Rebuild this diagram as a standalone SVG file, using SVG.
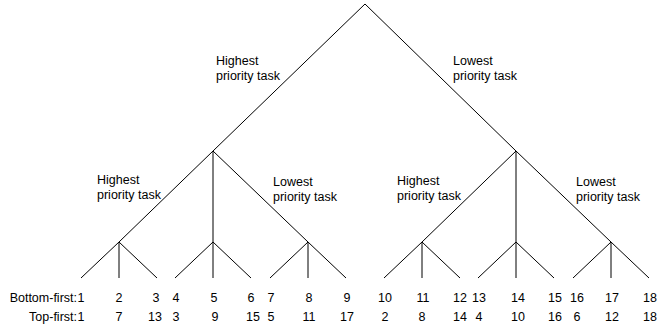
<svg xmlns="http://www.w3.org/2000/svg" width="664" height="332" viewBox="0 0 664 332">
<style>
.ln{stroke:#000;stroke-width:1;fill:none}
text{font-family:"Liberation Sans",Arial,sans-serif;font-size:12.5px;fill:#000}
.n{text-anchor:middle}
.r{text-anchor:end}
</style>
<rect width="664" height="332" fill="#fff"/>
<g id="connectors" class="ln">
<path d="M365,4 L213,151 M365,4 L516,151"/>
<path d="M213,151 L119,242 M213,151 L213,242 M213,151 L308,242"/>
<path d="M516,151 L422,242 M516,151 L516,242 M516,151 L611,242"/>
<path d="M119,242 L81,278 M119,242 L119,278 M119,242 L157,278"/>
<path d="M213,242 L175,278 M213,242 L213,278 M213,242 L251,278"/>
<path d="M308,242 L270,278 M308,242 L308,278 M308,242 L346,278"/>
<path d="M422,242 L384,278 M422,242 L422,278 M422,242 L460,278"/>
<path d="M516,242 L478,278 M516,242 L516,278 M516,242 L554,278"/>
<path d="M611,242 L573,278 M611,242 L611,278 M611,242 L649,278"/>
</g>
<g id="label-top-high"><text x="216" y="65">Highest</text><text x="216" y="80">priority task</text></g>
<g id="label-top-low"><text x="453" y="65">Lowest</text><text x="453" y="80">priority task</text></g>
<g id="label-left-high"><text x="97" y="184">Highest</text><text x="97" y="199">priority task</text></g>
<g id="label-left-low"><text x="273" y="185.5">Lowest</text><text x="273" y="200.5">priority task</text></g>
<g id="label-right-high"><text x="397" y="185">Highest</text><text x="397" y="200">priority task</text></g>
<g id="label-right-low"><text x="576" y="185.5">Lowest</text><text x="576" y="200.5">priority task</text></g>
<g id="row-bottom-first">
<text class="r" x="77" y="302">Bottom-first:</text>
<text class="n" x="81" y="302">1</text><text class="n" x="119" y="302">2</text><text class="n" x="156" y="302">3</text>
<text class="n" x="176" y="302">4</text><text class="n" x="214" y="302">5</text><text class="n" x="251" y="302">6</text>
<text class="n" x="271" y="302">7</text><text class="n" x="309" y="302">8</text><text class="n" x="347" y="302">9</text>
<text class="n" x="385" y="302">10</text><text class="n" x="423" y="302">11</text><text class="n" x="460" y="302">12</text>
<text class="n" x="479" y="302">13</text><text class="n" x="518" y="302">14</text><text class="n" x="555" y="302">15</text>
<text class="n" x="577" y="302">16</text><text class="n" x="612" y="302">17</text><text class="n" x="650" y="302">18</text>
</g>
<g id="row-top-first">
<text class="r" x="77" y="321">Top-first:</text>
<text class="n" x="81" y="321">1</text><text class="n" x="119" y="321">7</text><text class="n" x="155" y="321">13</text>
<text class="n" x="176" y="321">3</text><text class="n" x="215" y="321">9</text><text class="n" x="253" y="321">15</text>
<text class="n" x="271" y="321">5</text><text class="n" x="309" y="321">11</text><text class="n" x="347" y="321">17</text>
<text class="n" x="385" y="321">2</text><text class="n" x="422" y="321">8</text><text class="n" x="460" y="321">14</text>
<text class="n" x="479" y="321">4</text><text class="n" x="518" y="321">10</text><text class="n" x="555" y="321">16</text>
<text class="n" x="577" y="321">6</text><text class="n" x="612" y="321">12</text><text class="n" x="650" y="321">18</text>
</g>
</svg>
